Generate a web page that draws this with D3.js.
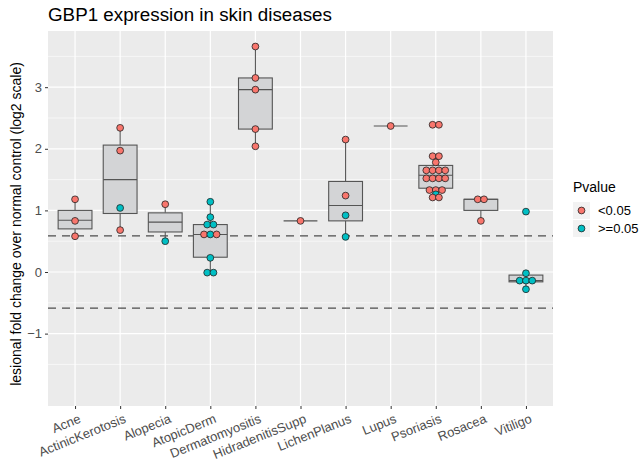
<!DOCTYPE html>
<html>
<head>
<meta charset="utf-8">
<script src="https://cdn.jsdelivr.net/npm/d3@7"></script>
<style>
  body { margin: 0; background: #fff; }
  svg { font-family: "Liberation Sans", Arial, sans-serif; }
</style>
</head>
<body>
<svg id="chart" width="641" height="462"></svg>
<script>
// categories on the x axis
var categories = ["Acne", "ActinicKerotosis", "Alopecia", "AtopicDerm", "Dermatomyositis",
  "HidradenitisSupp", "LichenPlanus", "Lupus", "Psoriasis", "Rosacea", "Vitiligo"];

// box statistics, one value per category (log2 fold change)
var boxLower  = [0.70, 0.95, 0.65, 0.24, 2.32, 0.83, 0.83, 2.37, 1.36, 1.00, -0.16];
var boxMedian = [0.84, 1.50, 0.81, 0.61, 2.96, 0.83, 1.08, 2.37, 1.57, 1.18, -0.14];
var boxUpper  = [1.00, 2.06, 0.96, 0.77, 3.15, 0.83, 1.47, 2.37, 1.73, 1.18, -0.05];
var whiskerLow  = [0.58, 0.68, 0.50, -0.01, 2.04, 0.83, 0.57, 2.37, 1.21, 0.83, -0.28];
var whiskerHigh = [1.18, 2.34, 1.10, 1.14, 3.66, 0.83, 2.15, 2.37, 1.88, 1.18, -0.02];

// dots: [category, value, pvalue group]
var points = [
  ["Acne", 1.18, "<0.05"], ["Acne", 0.83, "<0.05"], ["Acne", 0.58, "<0.05"],
  ["ActinicKerotosis", 2.34, "<0.05"], ["ActinicKerotosis", 1.97, "<0.05"],
  ["ActinicKerotosis", 1.04, ">=0.05"], ["ActinicKerotosis", 0.68, "<0.05"],
  ["Alopecia", 1.10, "<0.05"], ["Alopecia", 0.50, ">=0.05"],
  ["AtopicDerm", 1.14, ">=0.05"], ["AtopicDerm", 0.89, ">=0.05"],
  ["AtopicDerm", 0.77, ">=0.05"], ["AtopicDerm", 0.77, ">=0.05"],
  ["AtopicDerm", 0.61, "<0.05"], ["AtopicDerm", 0.61, ">=0.05"], ["AtopicDerm", 0.61, "<0.05"],
  ["AtopicDerm", 0.23, ">=0.05"], ["AtopicDerm", -0.01, ">=0.05"], ["AtopicDerm", -0.01, ">=0.05"],
  ["Dermatomyositis", 3.66, "<0.05"], ["Dermatomyositis", 3.15, "<0.05"],
  ["Dermatomyositis", 2.96, "<0.05"], ["Dermatomyositis", 2.32, "<0.05"],
  ["Dermatomyositis", 2.04, "<0.05"],
  ["HidradenitisSupp", 0.83, "<0.05"],
  ["LichenPlanus", 2.15, "<0.05"], ["LichenPlanus", 1.24, "<0.05"],
  ["LichenPlanus", 0.92, ">=0.05"], ["LichenPlanus", 0.57, ">=0.05"],
  ["Lupus", 2.37, "<0.05"],
  ["Psoriasis", 2.39, "<0.05"], ["Psoriasis", 2.39, "<0.05"],
  ["Psoriasis", 1.88, "<0.05"], ["Psoriasis", 1.88, "<0.05"],
  ["Psoriasis", 1.78, "<0.05"],
  ["Psoriasis", 1.65, "<0.05"], ["Psoriasis", 1.65, "<0.05"], ["Psoriasis", 1.65, "<0.05"], ["Psoriasis", 1.65, "<0.05"],
  ["Psoriasis", 1.52, "<0.05"], ["Psoriasis", 1.52, "<0.05"], ["Psoriasis", 1.52, "<0.05"], ["Psoriasis", 1.52, "<0.05"],
  ["Psoriasis", 1.33, "<0.05"], ["Psoriasis", 1.33, "<0.05"], ["Psoriasis", 1.33, "<0.05"],
  ["Psoriasis", 1.26, ">=0.05"],
  ["Psoriasis", 1.21, "<0.05"], ["Psoriasis", 1.21, "<0.05"],
  ["Rosacea", 1.18, "<0.05"], ["Rosacea", 1.18, "<0.05"], ["Rosacea", 0.83, "<0.05"],
  ["Vitiligo", 0.98, ">=0.05"], ["Vitiligo", -0.02, ">=0.05"],
  ["Vitiligo", -0.14, ">=0.05"], ["Vitiligo", -0.14, ">=0.05"], ["Vitiligo", -0.14, ">=0.05"],
  ["Vitiligo", -0.28, ">=0.05"]
];

var pvalueGroups = ["<0.05", ">=0.05"];
var pvalueColors = ["#F8766D", "#00BFC4"];
var yTicks = [-1, 0, 1, 2, 3];
var cutoffs = [0.585, -0.585];

var svg = d3.select("#chart");
var panel = {left: 48, right: 553, top: 31, bottom: 406};

var xScale = d3.scalePoint()
  .domain(categories)
  .range([panel.left, panel.right])
  .padding(0.6);
var step = xScale.step();

var yScale = d3.scaleLinear()
  .domain([-2.175, 3.912])
  .range([panel.bottom, panel.top]);

var colorScale = d3.scaleOrdinal().domain(pvalueGroups).range(pvalueColors);

// title
svg.append("text")
  .attr("x", panel.left)
  .attr("y", 21)
  .attr("font-size", 18.8)
  .attr("fill", "#000")
  .text("GBP1 expression in skin diseases");

// panel background + grid
svg.append("rect")
  .attr("x", panel.left).attr("y", panel.top)
  .attr("width", panel.right - panel.left)
  .attr("height", panel.bottom - panel.top)
  .attr("fill", "#EBEBEB");

var minor = d3.range(-1.5, 4, 1);
svg.selectAll(".minor").data(minor).enter().append("line")
  .attr("x1", panel.left).attr("x2", panel.right)
  .attr("y1", function(d) { return yScale(d); })
  .attr("y2", function(d) { return yScale(d); })
  .attr("stroke", "#fff").attr("stroke-width", 0.6);

svg.selectAll(".major").data(yTicks).enter().append("line")
  .attr("x1", panel.left).attr("x2", panel.right)
  .attr("y1", function(d) { return yScale(d); })
  .attr("y2", function(d) { return yScale(d); })
  .attr("stroke", "#fff").attr("stroke-width", 1.2);

svg.selectAll(".vgrid").data(categories).enter().append("line")
  .attr("x1", function(d) { return xScale(d); })
  .attr("x2", function(d) { return xScale(d); })
  .attr("y1", panel.top).attr("y2", panel.bottom)
  .attr("stroke", "#fff").attr("stroke-width", 1.2);

// axes
var yAxis = svg.append("g")
  .attr("transform", "translate(" + panel.left + ",0)")
  .call(d3.axisLeft(yScale).tickValues(yTicks).tickSize(3).tickPadding(3)
    .tickFormat(function(d) { return d < 0 ? "\u2212" + Math.abs(d) : d; }));
yAxis.select(".domain").remove();
yAxis.selectAll(".tick line").attr("stroke", "#333");
yAxis.selectAll(".tick text").attr("fill", "#4D4D4D").attr("font-size", 13)
  .attr("font-family", "Liberation Sans, Arial, sans-serif");

var xAxis = svg.append("g")
  .attr("transform", "translate(0," + panel.bottom + ")")
  .call(d3.axisBottom(xScale).tickSize(3).tickFormat(""));
xAxis.select(".domain").remove();
xAxis.selectAll(".tick line").attr("stroke", "#333");

svg.selectAll(".xlab").data(categories).enter().append("text")
  .attr("transform", function(d) {
    return "translate(" + (xScale(d) + 3) + "," + (panel.bottom + 7) + ") rotate(-22)";
  })
  .attr("text-anchor", "end")
  .attr("dy", "0.75em")
  .attr("font-size", 13)
  .attr("fill", "#4D4D4D")
  .text(function(d) { return d; });

// y title
svg.append("text")
  .attr("transform", "translate(21,224) rotate(-90)")
  .attr("text-anchor", "middle")
  .attr("font-size", 14)
  .attr("fill", "#000")
  .text("lesional fold change over normal control (log2 scale)");

// dashed cut-off lines
svg.selectAll(".cut").data(cutoffs).enter().append("line")
  .attr("x1", panel.left).attr("x2", panel.right)
  .attr("y1", function(d) { return yScale(d); })
  .attr("y2", function(d) { return yScale(d); })
  .attr("stroke", "#4D4D4D").attr("stroke-width", 1.2)
  .attr("stroke-dasharray", "8,6");

// boxplots
var boxW = step * 0.75;
var boxes = svg.selectAll(".box").data(categories).enter().append("g");

boxes.append("line")
  .attr("x1", function(d) { return xScale(d); })
  .attr("x2", function(d) { return xScale(d); })
  .attr("y1", function(d, i) { return yScale(boxUpper[i]); })
  .attr("y2", function(d, i) { return yScale(whiskerHigh[i]); })
  .attr("stroke", "#555").attr("stroke-width", 1.1);
boxes.append("line")
  .attr("x1", function(d) { return xScale(d); })
  .attr("x2", function(d) { return xScale(d); })
  .attr("y1", function(d, i) { return yScale(boxLower[i]); })
  .attr("y2", function(d, i) { return yScale(whiskerLow[i]); })
  .attr("stroke", "#555").attr("stroke-width", 1.1);
boxes.append("rect")
  .attr("x", function(d) { return xScale(d) - boxW / 2; })
  .attr("width", boxW)
  .attr("y", function(d, i) { return yScale(boxUpper[i]); })
  .attr("height", function(d, i) { return yScale(boxLower[i]) - yScale(boxUpper[i]); })
  .attr("fill", "#D3D4D6").attr("stroke", "#555").attr("stroke-width", 1.1);
boxes.append("line")
  .attr("x1", function(d) { return xScale(d) - boxW / 2; })
  .attr("x2", function(d) { return xScale(d) + boxW / 2; })
  .attr("y1", function(d, i) { return yScale(boxMedian[i]); })
  .attr("y2", function(d, i) { return yScale(boxMedian[i]); })
  .attr("stroke", "#555").attr("stroke-width", 1.1);

// dots, stacked sideways when they share a value (centered dotplot)
var dotD = 6.3;
var groups = d3.group(points, function(d) { return d[0] + "|" + d[1]; });
var dots = [];
groups.forEach(function(arr) {
  arr.forEach(function(p, i) {
    dots.push({cat: p[0], v: p[1], g: p[2], off: (i - (arr.length - 1) / 2) * dotD});
  });
});

svg.selectAll(".dot").data(dots).enter().append("circle")
  .attr("cx", function(d) { return xScale(d.cat) + d.off; })
  .attr("cy", function(d) { return yScale(d.v); })
  .attr("r", 3.4)
  .attr("fill", function(d) { return colorScale(d.g); })
  .attr("stroke", "#222").attr("stroke-width", 0.8);

// legend
var legend = svg.append("g").attr("transform", "translate(573,0)");
legend.append("text")
  .attr("x", 0).attr("y", 192)
  .attr("font-size", 14).attr("fill", "#000")
  .text("Pvalue");
var item = legend.selectAll(".item").data(pvalueGroups).enter().append("g")
  .attr("transform", function(d, i) { return "translate(0," + (202 + i * 18) + ")"; });
item.append("rect")
  .attr("width", 17).attr("height", 17)
  .attr("fill", "#F2F2F2");
item.append("circle")
  .attr("cx", 8.5).attr("cy", 8.5).attr("r", 3.4)
  .attr("fill", function(d) { return colorScale(d); })
  .attr("stroke", "#222").attr("stroke-width", 0.8);
item.append("text")
  .attr("x", 25).attr("y", 8.5).attr("dy", "0.35em")
  .attr("font-size", 13).attr("fill", "#000")
  .text(function(d) { return d; });
</script>
</body>
</html>
